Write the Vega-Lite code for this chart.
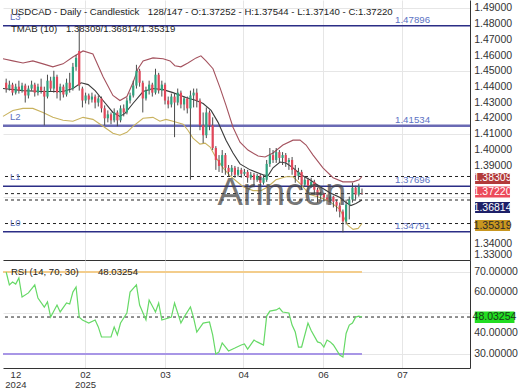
{
  "$schema": "https://vega.github.io/schema/vega-lite/v6.json",
  "padding": 0,
  "background": "white",
  "spacing": 0,
  "bounds": "flush",
  "config": {
    "view": {"stroke": null},
    "font": "Liberation Sans",
    "axis": {"labelFont": "Liberation Sans", "labelColor": "#333333", "gridColor": "#e6e6e6", "domainColor": "#333333", "ticks": false, "title": null}
  },
  "datasets": {
    "candles": [
      {"i":1,"o":1.4427,"h":1.4453,"l":1.4364,"c":1.439},
      {"i":2,"o":1.439,"h":1.444,"l":1.4377,"c":1.4415},
      {"i":3,"o":1.4415,"h":1.4427,"l":1.4346,"c":1.4364},
      {"i":4,"o":1.4364,"h":1.4421,"l":1.4352,"c":1.4402},
      {"i":5,"o":1.4402,"h":1.444,"l":1.4358,"c":1.4377},
      {"i":6,"o":1.4377,"h":1.4427,"l":1.4364,"c":1.4409},
      {"i":7,"o":1.4409,"h":1.4421,"l":1.4301,"c":1.4346},
      {"i":8,"o":1.4346,"h":1.4409,"l":1.4327,"c":1.439},
      {"i":9,"o":1.439,"h":1.444,"l":1.4377,"c":1.4415},
      {"i":10,"o":1.4415,"h":1.4427,"l":1.4339,"c":1.4364},
      {"i":11,"o":1.4364,"h":1.4421,"l":1.4346,"c":1.4402},
      {"i":12,"o":1.4402,"h":1.4453,"l":1.4358,"c":1.4377},
      {"i":13,"o":1.4377,"h":1.4402,"l":1.4156,"c":1.4339},
      {"i":14,"o":1.4339,"h":1.4478,"l":1.4327,"c":1.444},
      {"i":15,"o":1.444,"h":1.4465,"l":1.4371,"c":1.439},
      {"i":16,"o":1.439,"h":1.4503,"l":1.4364,"c":1.4465},
      {"i":17,"o":1.4465,"h":1.4478,"l":1.4327,"c":1.4364},
      {"i":18,"o":1.4364,"h":1.4421,"l":1.4314,"c":1.4402},
      {"i":19,"o":1.4402,"h":1.4415,"l":1.4333,"c":1.4352},
      {"i":20,"o":1.4352,"h":1.4453,"l":1.4339,"c":1.4427},
      {"i":21,"o":1.4427,"h":1.449,"l":1.4364,"c":1.439},
      {"i":22,"o":1.439,"h":1.4553,"l":1.4377,"c":1.4528},
      {"i":23,"o":1.4528,"h":1.4604,"l":1.4503,"c":1.4585},
      {"i":24,"o":1.4629,"h":1.4793,"l":1.4377,"c":1.4409},
      {"i":25,"o":1.439,"h":1.4402,"l":1.427,"c":1.4314},
      {"i":26,"o":1.4314,"h":1.4364,"l":1.4295,"c":1.4346},
      {"i":27,"o":1.4346,"h":1.4358,"l":1.4289,"c":1.432},
      {"i":28,"o":1.432,"h":1.4364,"l":1.4301,"c":1.4339},
      {"i":29,"o":1.4339,"h":1.4352,"l":1.4264,"c":1.4301},
      {"i":30,"o":1.4301,"h":1.4346,"l":1.4276,"c":1.4327},
      {"i":31,"o":1.4327,"h":1.4339,"l":1.4238,"c":1.4264},
      {"i":32,"o":1.4264,"h":1.4283,"l":1.4156,"c":1.4201},
      {"i":33,"o":1.4201,"h":1.4251,"l":1.4175,"c":1.4226},
      {"i":34,"o":1.4226,"h":1.4238,"l":1.4163,"c":1.4188},
      {"i":35,"o":1.4188,"h":1.4264,"l":1.4175,"c":1.4238},
      {"i":36,"o":1.4238,"h":1.4251,"l":1.415,"c":1.4188},
      {"i":37,"o":1.4188,"h":1.4283,"l":1.4175,"c":1.4264},
      {"i":38,"o":1.4264,"h":1.4289,"l":1.4213,"c":1.4238},
      {"i":39,"o":1.4238,"h":1.4333,"l":1.4226,"c":1.4314},
      {"i":40,"o":1.4314,"h":1.4364,"l":1.4295,"c":1.4346},
      {"i":41,"o":1.4346,"h":1.444,"l":1.4333,"c":1.4409},
      {"i":42,"o":1.4409,"h":1.4541,"l":1.439,"c":1.4503},
      {"i":43,"o":1.4503,"h":1.4516,"l":1.4402,"c":1.4427},
      {"i":44,"o":1.4427,"h":1.444,"l":1.4238,"c":1.4327},
      {"i":45,"o":1.4327,"h":1.4402,"l":1.4314,"c":1.4377},
      {"i":46,"o":1.4377,"h":1.444,"l":1.4352,"c":1.4415},
      {"i":47,"o":1.4415,"h":1.4427,"l":1.4339,"c":1.4364},
      {"i":48,"o":1.4364,"h":1.4516,"l":1.4352,"c":1.4478},
      {"i":49,"o":1.4478,"h":1.449,"l":1.4358,"c":1.4377},
      {"i":50,"o":1.4377,"h":1.444,"l":1.4339,"c":1.4415},
      {"i":51,"o":1.4415,"h":1.4427,"l":1.4289,"c":1.4314},
      {"i":52,"o":1.4314,"h":1.4339,"l":1.4264,"c":1.4289},
      {"i":53,"o":1.4289,"h":1.4358,"l":1.427,"c":1.4339},
      {"i":54,"o":1.4339,"h":1.4358,"l":1.4081,"c":1.4301},
      {"i":55,"o":1.4301,"h":1.439,"l":1.4283,"c":1.4364},
      {"i":56,"o":1.4364,"h":1.4377,"l":1.4264,"c":1.4289},
      {"i":57,"o":1.4289,"h":1.4339,"l":1.4251,"c":1.4327},
      {"i":58,"o":1.4327,"h":1.4339,"l":1.4232,"c":1.4264},
      {"i":59,"o":1.4264,"h":1.4377,"l":1.381,"c":1.4346},
      {"i":60,"o":1.4346,"h":1.439,"l":1.427,"c":1.4364},
      {"i":61,"o":1.4364,"h":1.439,"l":1.427,"c":1.4314},
      {"i":62,"o":1.4314,"h":1.4327,"l":1.4125,"c":1.4156},
      {"i":63,"o":1.4156,"h":1.4238,"l":1.4043,"c":1.4093},
      {"i":64,"o":1.4093,"h":1.427,"l":1.4075,"c":1.4238},
      {"i":65,"o":1.4238,"h":1.4251,"l":1.4125,"c":1.4156},
      {"i":66,"o":1.4156,"h":1.4207,"l":1.3999,"c":1.4012},
      {"i":67,"o":1.4012,"h":1.4024,"l":1.3873,"c":1.3936},
      {"i":68,"o":1.3936,"h":1.3967,"l":1.386,"c":1.3898},
      {"i":69,"o":1.3898,"h":1.3999,"l":1.3854,"c":1.3967},
      {"i":70,"o":1.3967,"h":1.398,"l":1.3842,"c":1.3886},
      {"i":71,"o":1.3886,"h":1.3904,"l":1.3829,"c":1.386},
      {"i":72,"o":1.386,"h":1.3904,"l":1.3835,"c":1.3886},
      {"i":73,"o":1.3886,"h":1.3898,"l":1.3823,"c":1.3842},
      {"i":74,"o":1.3842,"h":1.3892,"l":1.3829,"c":1.3873},
      {"i":75,"o":1.3873,"h":1.3886,"l":1.3823,"c":1.3848},
      {"i":76,"o":1.3848,"h":1.3879,"l":1.3835,"c":1.386},
      {"i":77,"o":1.386,"h":1.3873,"l":1.3791,"c":1.3823},
      {"i":78,"o":1.3823,"h":1.386,"l":1.381,"c":1.3842},
      {"i":79,"o":1.3842,"h":1.3854,"l":1.3772,"c":1.381},
      {"i":80,"o":1.381,"h":1.3848,"l":1.3797,"c":1.3835},
      {"i":81,"o":1.3835,"h":1.3848,"l":1.3766,"c":1.3791},
      {"i":82,"o":1.3791,"h":1.3842,"l":1.3779,"c":1.3823},
      {"i":83,"o":1.381,"h":1.3936,"l":1.3797,"c":1.3911},
      {"i":84,"o":1.3911,"h":1.4012,"l":1.3892,"c":1.3967},
      {"i":85,"o":1.3967,"h":1.3999,"l":1.3917,"c":1.3936},
      {"i":86,"o":1.3936,"h":1.4012,"l":1.3917,"c":1.3986},
      {"i":87,"o":1.3986,"h":1.3999,"l":1.3923,"c":1.3949},
      {"i":88,"o":1.3949,"h":1.3986,"l":1.3904,"c":1.3967},
      {"i":89,"o":1.3967,"h":1.398,"l":1.3892,"c":1.3923},
      {"i":90,"o":1.3923,"h":1.3949,"l":1.3873,"c":1.3936},
      {"i":91,"o":1.3936,"h":1.3955,"l":1.3842,"c":1.3873},
      {"i":92,"o":1.3873,"h":1.3904,"l":1.3791,"c":1.3835},
      {"i":93,"o":1.3835,"h":1.3886,"l":1.381,"c":1.386},
      {"i":94,"o":1.386,"h":1.3873,"l":1.3747,"c":1.3779},
      {"i":95,"o":1.3779,"h":1.3829,"l":1.3766,"c":1.381},
      {"i":96,"o":1.381,"h":1.3823,"l":1.3728,"c":1.3772},
      {"i":97,"o":1.3772,"h":1.3823,"l":1.376,"c":1.3797},
      {"i":98,"o":1.3797,"h":1.381,"l":1.3716,"c":1.3747},
      {"i":99,"o":1.3747,"h":1.376,"l":1.3665,"c":1.3709},
      {"i":100,"o":1.3709,"h":1.3734,"l":1.3684,"c":1.3722},
      {"i":101,"o":1.3722,"h":1.3728,"l":1.3671,"c":1.3697},
      {"i":102,"o":1.3697,"h":1.3716,"l":1.3652,"c":1.3684},
      {"i":103,"o":1.3684,"h":1.3716,"l":1.3665,"c":1.3703},
      {"i":104,"o":1.3703,"h":1.3709,"l":1.3634,"c":1.3671},
      {"i":105,"o":1.3671,"h":1.3684,"l":1.3608,"c":1.3646},
      {"i":106,"o":1.3646,"h":1.3665,"l":1.3571,"c":1.3608},
      {"i":107,"o":1.3608,"h":1.3621,"l":1.3476,"c":1.3545},
      {"i":108,"o":1.3545,"h":1.3684,"l":1.3526,"c":1.3652},
      {"i":109,"o":1.3652,"h":1.3703,"l":1.3558,"c":1.3684},
      {"i":110,"o":1.3684,"h":1.3791,"l":1.3665,"c":1.376},
      {"i":111,"o":1.376,"h":1.3772,"l":1.3684,"c":1.3716},
      {"i":112,"o":1.3716,"h":1.3785,"l":1.3703,"c":1.3766},
      {"i":113,"o":1.37252,"h":1.37544,"l":1.3714,"c":1.3722}
    ],
    "bands": [
      {"band":"upper","i":0,"v":1.4579},{"band":"upper","i":3.1,"v":1.4566},{"band":"upper","i":6.3,"v":1.4553},{"band":"upper","i":9.4,"v":1.4566},
      {"band":"upper","i":12.6,"v":1.4547},{"band":"upper","i":15.7,"v":1.4528},{"band":"upper","i":18.9,"v":1.4547},{"band":"upper","i":22,"v":1.4591},
      {"band":"upper","i":25.2,"v":1.4629},{"band":"upper","i":28.3,"v":1.461},{"band":"upper","i":31.5,"v":1.4465},{"band":"upper","i":34.6,"v":1.4346},
      {"band":"upper","i":36.8,"v":1.4314},{"band":"upper","i":39,"v":1.4339},{"band":"upper","i":40.9,"v":1.4427},{"band":"upper","i":42.5,"v":1.4516},
      {"band":"upper","i":44.1,"v":1.4566},{"band":"upper","i":47.2,"v":1.4585},{"band":"upper","i":50.4,"v":1.4579},{"band":"upper","i":52.6,"v":1.4566},
      {"band":"upper","i":54.1,"v":1.4535},{"band":"upper","i":56,"v":1.4528},{"band":"upper","i":58.2,"v":1.4553},{"band":"upper","i":60.8,"v":1.4585},
      {"band":"upper","i":62.3,"v":1.4598},{"band":"upper","i":63.9,"v":1.4566},{"band":"upper","i":66.1,"v":1.4516},{"band":"upper","i":68.3,"v":1.4396},
      {"band":"upper","i":70.2,"v":1.4283},{"band":"upper","i":72.4,"v":1.4144},{"band":"upper","i":74.6,"v":1.4049},{"band":"upper","i":77.1,"v":1.3999},
      {"band":"upper","i":80.3,"v":1.3961},{"band":"upper","i":82.5,"v":1.3955},{"band":"upper","i":85,"v":1.398},{"band":"upper","i":88.1,"v":1.4031},
      {"band":"upper","i":91.3,"v":1.4062},{"band":"upper","i":93.5,"v":1.4062},{"band":"upper","i":95.4,"v":1.4031},{"band":"upper","i":97.6,"v":1.3967},
      {"band":"upper","i":100.7,"v":1.3886},{"band":"upper","i":103.9,"v":1.3823},{"band":"upper","i":107,"v":1.3797},{"band":"upper","i":110.2,"v":1.3797},
      {"band":"upper","i":112.1,"v":1.381},{"band":"upper","i":113,"v":1.38309},
      {"band":"mid","i":0,"v":1.439},{"band":"mid","i":6.3,"v":1.4377},{"band":"mid","i":12.6,"v":1.4371},{"band":"mid","i":18.9,"v":1.4371},
      {"band":"mid","i":22,"v":1.439},{"band":"mid","i":24.6,"v":1.4427},{"band":"mid","i":26.8,"v":1.4415},{"band":"mid","i":29,"v":1.4377},
      {"band":"mid","i":31.5,"v":1.4314},{"band":"mid","i":34.6,"v":1.4238},{"band":"mid","i":36.8,"v":1.4213},{"band":"mid","i":38.4,"v":1.4232},
      {"band":"mid","i":40.9,"v":1.4295},{"band":"mid","i":44.1,"v":1.4371},{"band":"mid","i":47.2,"v":1.439},{"band":"mid","i":50.4,"v":1.4383},
      {"band":"mid","i":53.5,"v":1.4364},{"band":"mid","i":57.6,"v":1.4333},{"band":"mid","i":60.8,"v":1.4314},{"band":"mid","i":63,"v":1.4295},
      {"band":"mid","i":65.5,"v":1.4251},{"band":"mid","i":67.7,"v":1.4175},{"band":"mid","i":70.2,"v":1.4062},{"band":"mid","i":72.4,"v":1.398},
      {"band":"mid","i":74.6,"v":1.3911},{"band":"mid","i":77.8,"v":1.3873},{"band":"mid","i":81.8,"v":1.3842},{"band":"mid","i":83.4,"v":1.3835},
      {"band":"mid","i":85,"v":1.3886},{"band":"mid","i":87.2,"v":1.3923},{"band":"mid","i":89.1,"v":1.3917},{"band":"mid","i":91.3,"v":1.3886},
      {"band":"mid","i":93.8,"v":1.3842},{"band":"mid","i":96.6,"v":1.381},{"band":"mid","i":99.8,"v":1.3766},{"band":"mid","i":102.9,"v":1.3728},
      {"band":"mid","i":106.1,"v":1.3697},{"band":"mid","i":108,"v":1.3665},{"band":"mid","i":109.5,"v":1.3646},{"band":"mid","i":111.1,"v":1.3659},
      {"band":"mid","i":113,"v":1.36814},
      {"band":"lower","i":0,"v":1.4213},{"band":"lower","i":3.1,"v":1.4251},{"band":"lower","i":6.3,"v":1.4264},{"band":"lower","i":9.4,"v":1.4264},
      {"band":"lower","i":12.6,"v":1.4238},{"band":"lower","i":15.7,"v":1.4207},{"band":"lower","i":18.9,"v":1.4188},{"band":"lower","i":22,"v":1.4182},
      {"band":"lower","i":25.2,"v":1.4207},{"band":"lower","i":28.3,"v":1.4194},{"band":"lower","i":31.5,"v":1.415},{"band":"lower","i":34.6,"v":1.4106},
      {"band":"lower","i":36.8,"v":1.4093},{"band":"lower","i":39,"v":1.4112},{"band":"lower","i":40.9,"v":1.415},{"band":"lower","i":44.1,"v":1.4201},
      {"band":"lower","i":47.2,"v":1.4207},{"band":"lower","i":49.4,"v":1.4182},{"band":"lower","i":51.3,"v":1.4194},{"band":"lower","i":53.5,"v":1.4182},
      {"band":"lower","i":56.7,"v":1.4163},{"band":"lower","i":58.2,"v":1.4125},{"band":"lower","i":59.8,"v":1.4075},{"band":"lower","i":62,"v":1.4037},
      {"band":"lower","i":63.6,"v":1.4043},{"band":"lower","i":65.2,"v":1.4018},{"band":"lower","i":67.1,"v":1.3949},{"band":"lower","i":69.3,"v":1.3886},
      {"band":"lower","i":71.5,"v":1.3835},{"band":"lower","i":73.3,"v":1.3804},{"band":"lower","i":75.6,"v":1.3766},{"band":"lower","i":78.7,"v":1.3741},
      {"band":"lower","i":81.2,"v":1.3741},{"band":"lower","i":83.4,"v":1.3766},{"band":"lower","i":85.9,"v":1.381},{"band":"lower","i":89.1,"v":1.3829},
      {"band":"lower","i":91.3,"v":1.3829},{"band":"lower","i":93.5,"v":1.3785},{"band":"lower","i":96.6,"v":1.3716},{"band":"lower","i":99.8,"v":1.3697},
      {"band":"lower","i":102.9,"v":1.3671},{"band":"lower","i":106.1,"v":1.3621},{"band":"lower","i":107,"v":1.3583},{"band":"lower","i":108.6,"v":1.352},
      {"band":"lower","i":110.2,"v":1.3495},{"band":"lower","i":111.8,"v":1.3501},{"band":"lower","i":113,"v":1.35319}
    ],
    "rsi": [
      {"i":1,"r":70.0},{"i":2,"r":63.7},{"i":3,"r":65.1},{"i":4,"r":64.1},{"i":5,"r":67.1},{"i":6,"r":57.8},{"i":8,"r":59.8},{"i":10,"r":63.7},
      {"i":11,"r":57.3},{"i":13,"r":52.9},{"i":14,"r":55.4},{"i":15,"r":48.0},{"i":17,"r":53.9},{"i":18,"r":50.5},{"i":20,"r":54.9},{"i":21,"r":54.4},
      {"i":22,"r":60.2},{"i":23,"r":62.7},{"i":24,"r":48.0},{"i":25,"r":46.6},{"i":27,"r":45.1},{"i":29,"r":46.6},{"i":30,"r":43.2},{"i":31,"r":38.3},
      {"i":34,"r":38.3},{"i":35,"r":43.2},{"i":36,"r":39.3},{"i":37,"r":45.1},{"i":39,"r":50.0},{"i":40,"r":60.2},{"i":42,"r":63.7},{"i":43,"r":53.9},
      {"i":45,"r":46.6},{"i":46,"r":56.3},{"i":48,"r":50.5},{"i":49,"r":54.9},{"i":50,"r":46.6},{"i":53,"r":48.0},{"i":54,"r":54.9},{"i":56,"r":45.1},
      {"i":57,"r":48.0},{"i":59,"r":52.9},{"i":60,"r":47.6},{"i":61,"r":40.7},{"i":63,"r":45.1},{"i":65,"r":45.6},{"i":66,"r":39.3},{"i":67,"r":30.0},
      {"i":68,"r":31.0},{"i":69,"r":35.4},{"i":71,"r":31.5},{"i":73,"r":32.9},{"i":75,"r":34.4},{"i":76,"r":34.9},{"i":77,"r":32.4},{"i":79,"r":36.8},
      {"i":80,"r":35.9},{"i":82,"r":34.4},{"i":83,"r":48.5},{"i":84,"r":50.9},{"i":86,"r":51.5},{"i":87,"r":52.4},{"i":88,"r":50.5},{"i":90,"r":50.0},
      {"i":91,"r":44.1},{"i":92,"r":40.7},{"i":93,"r":33.4},{"i":94,"r":33.4},{"i":96,"r":45.1},{"i":97,"r":41.5},{"i":99,"r":35.9},{"i":100,"r":35.4},
      {"i":101,"r":33.4},{"i":102,"r":36.8},{"i":103,"r":35.9},{"i":104,"r":34.4},{"i":106,"r":29.5},{"i":107,"r":28.5},{"i":108,"r":40.0},{"i":109,"r":44.1},
      {"i":110,"r":45.1},{"i":111,"r":48.0},{"i":112,"r":48.5},{"i":113,"r":48.03254}
    ],
    "levels": [
      {"name":"L3","v":1.47896},{"name":"L2","v":1.41534},{"name":"L1","v":1.37696},{"name":"L0","v":1.34791}
    ],
    "current": [
      {"k":"upper","v":1.38309},{"k":"close","v":1.3722},{"k":"mid","v":1.36814},{"k":"lower","v":1.35319}
    ],
    "priceticks": [
      {"t":1.34},{"t":1.39},{"t":1.4},{"t":1.41},{"t":1.42},{"t":1.43},{"t":1.44},{"t":1.45},{"t":1.46},{"t":1.47},{"t":1.48},{"t":1.49}
    ],
    "rsiticks": [{"t":30},{"t":40},{"t":60},{"t":70}],
    "rsinow": [{"r":48.03254}]
  },
  "vconcat": [
    {
      "width": 467,
      "height": 260,
      "layer": [
        {
          "data": {"name": "levels"},
          "mark": {"type": "rule"},
          "encoding": {
            "y": {"field": "v", "type": "quantitative", "title": null,
              "scale": {"domain": [1.33, 1.4953], "nice": false, "zero": false},
              "axis": {"orient": "right", "values": [1.33,1.34,1.35,1.36,1.37,1.38,1.39,1.4,1.41,1.42,1.43,1.44,1.45,1.46,1.47,1.48,1.49],
                "labels": false, "grid": true, "domain": true}},
            "color": {"condition": {"test": "datum.name == 'L2'", "value": "#6a6ab4"}, "value": "#2b2d86"},
            "strokeWidth": {"condition": {"test": "datum.name == 'L2'", "value": 2.5}, "value": 1.5}
          }
        },
        {
          "data": {"name": "current"},
          "mark": {"type": "rule", "strokeDash": [3, 3], "color": "#222222", "strokeWidth": 1},
          "encoding": {"y": {"field": "v", "type": "quantitative", "title": null}}
        },
        {
          "data": {"name": "bands"},
          "mark": {"type": "line", "strokeWidth": 1.1},
          "encoding": {
            "x": {"field": "i", "type": "quantitative", "title": null},
            "y": {"field": "v", "type": "quantitative", "title": null},
            "stroke": {"field": "band", "type": "nominal", "scale": {"domain": ["upper", "mid", "lower"], "range": ["#a4525e", "#3a3a3a", "#c9b25e"]}, "legend": null}
          }
        },
        {
          "data": {"name": "candles"},
          "mark": {"type": "rule", "color": "#4a4a4a", "strokeWidth": 1},
          "encoding": {
            "x": {"field": "i", "type": "quantitative", "title": null,
              "scale": {"domain": [0, 147], "nice": false, "zero": false},
              "axis": {"orient": "bottom", "values": [25.8, 51, 75.6, 100.7, 125.6], "labels": false, "grid": true, "domain": true}},
            "y": {"field": "l", "type": "quantitative", "title": null},
            "y2": {"field": "h"}
          }
        },
        {
          "data": {"name": "candles"},
          "mark": {"type": "rule", "strokeWidth": 2.2},
          "encoding": {
            "x": {"field": "i", "type": "quantitative", "title": null},
            "y": {"field": "o", "type": "quantitative", "title": null},
            "y2": {"field": "c"},
            "color": {"condition": {"test": "datum.c >= datum.o", "value": "#2fa37f"}, "value": "#e2475a"}
          }
        },
        {
          "data": {"name": "levels"},
          "mark": {"type": "text", "align": "left", "baseline": "middle", "dy": -9, "fontSize": 9.5, "color": "#5c6fc0"},
          "encoding": {
            "x": {"datum": 2.2},
            "y": {"field": "v", "type": "quantitative", "title": null},
            "text": {"field": "name"}
          }
        },
        {
          "data": {"name": "levels"},
          "mark": {"type": "text", "align": "left", "baseline": "middle", "dy": -6, "fontSize": 9.7, "color": "#5c73c4"},
          "encoding": {
            "x": {"datum": 123.4},
            "y": {"field": "v", "type": "quantitative", "title": null},
            "text": {"field": "v", "format": ".5f"}
          }
        },
        {
          "data": {"values": [{"t": "Arincen"}]},
          "mark": {"type": "text", "align": "center", "baseline": "alphabetic", "fontSize": 38, "color": "#444444", "opacity": 0.72},
          "encoding": {
            "x": {"datum": 87.8},
            "y": {"datum": 1.3649},
            "text": {"field": "t"}
          }
        },
        {
          "data": {"values": [{"t": "USDCAD - Daily - Candlestick"}]},
          "mark": {"type": "text", "align": "left", "baseline": "middle", "fontSize": 9.6, "color": "#222222"},
          "encoding": {"x": {"datum": 2.5}, "y": {"datum": 1.4876}, "text": {"field": "t"}}
        },
        {
          "data": {"values": [{"t": "128/147 - O:1.37252 - H:1.37544 - L:1.37140 - C:1.37220"}]},
          "mark": {"type": "text", "align": "left", "baseline": "middle", "fontSize": 9.6, "color": "#222222"},
          "encoding": {"x": {"datum": 45.6}, "y": {"datum": 1.4876}, "text": {"field": "t"}}
        },
        {
          "data": {"values": [{"t": "TMAB (10)"}]},
          "mark": {"type": "text", "align": "left", "baseline": "middle", "fontSize": 9.6, "color": "#222222"},
          "encoding": {"x": {"datum": 2.5}, "y": {"datum": 1.4768}, "text": {"field": "t"}}
        },
        {
          "data": {"values": [{"t": "1.38309/1.36814/1.35319"}]},
          "mark": {"type": "text", "align": "left", "baseline": "middle", "fontSize": 9.6, "color": "#222222"},
          "encoding": {"x": {"datum": 19.8}, "y": {"datum": 1.4768}, "text": {"field": "t"}}
        },
        {
          "data": {"name": "priceticks"},
          "mark": {"type": "text", "align": "left", "baseline": "middle", "fontSize": 10.5, "color": "#333333"},
          "encoding": {
            "x": {"datum": 148.3},
            "y": {"field": "t", "type": "quantitative", "title": null},
            "text": {"field": "t", "format": ".5f"}
          }
        },
        {
          "data": {"values": [{"t": 1.33}]},
          "mark": {"type": "text", "align": "left", "baseline": "bottom", "dy": 0, "fontSize": 10.5, "color": "#333333"},
          "encoding": {
            "x": {"datum": 148.3},
            "y": {"field": "t", "type": "quantitative", "title": null},
            "text": {"field": "t", "format": ".5f"}
          }
        },
        {
          "data": {"name": "current"},
          "transform": [{"filter": "datum.k == 'upper' || datum.k == 'lower'"}],
          "mark": {"type": "rect", "yOffset": -3.5, "y2Offset": 7.5},
          "encoding": {
            "x": {"datum": 148.6}, "x2": {"datum": 159.6},
            "y": {"field": "v", "type": "quantitative", "title": null}, "y2": {"field": "v"},
            "fill": {"field": "k", "type": "nominal", "scale": {"domain": ["upper", "close", "mid", "lower"], "range": ["#b23a3a", "#ec4a5b", "#1d2068", "#c8961f"]}, "legend": null}
          }
        },
        {
          "data": {"name": "current"},
          "transform": [{"filter": "datum.k == 'close'"}],
          "mark": {"type": "rect", "yOffset": -7, "y2Offset": 4},
          "encoding": {
            "x": {"datum": 148.6}, "x2": {"datum": 159.6},
            "y": {"field": "v", "type": "quantitative", "title": null}, "y2": {"field": "v"},
            "fill": {"field": "k", "type": "nominal", "legend": null}
          }
        },
        {
          "data": {"name": "current"},
          "transform": [{"filter": "datum.k == 'mid'"}],
          "mark": {"type": "rect", "yOffset": 2, "y2Offset": 13},
          "encoding": {
            "x": {"datum": 148.6}, "x2": {"datum": 159.6},
            "y": {"field": "v", "type": "quantitative", "title": null}, "y2": {"field": "v"},
            "fill": {"field": "k", "type": "nominal", "legend": null}
          }
        },
        {
          "data": {"name": "current"},
          "transform": [{"filter": "datum.k == 'upper' || datum.k == 'lower'"}],
          "mark": {"type": "text", "align": "center", "baseline": "middle", "dy": 2, "fontSize": 10.5},
          "encoding": {
            "x": {"datum": 154.1},
            "y": {"field": "v", "type": "quantitative", "title": null},
            "text": {"field": "v", "format": ".5f"},
            "color": {"condition": {"test": "datum.k == 'lower'", "value": "#2a2a2a"}, "value": "#ffffff"}
          }
        },
        {
          "data": {"name": "current"},
          "transform": [{"filter": "datum.k == 'close'"}],
          "mark": {"type": "text", "align": "center", "baseline": "middle", "dy": -1.5, "fontSize": 10.5, "color": "#ffffff"},
          "encoding": {
            "x": {"datum": 154.1},
            "y": {"field": "v", "type": "quantitative", "title": null},
            "text": {"field": "v", "format": ".5f"}
          }
        },
        {
          "data": {"name": "current"},
          "transform": [{"filter": "datum.k == 'mid'"}],
          "mark": {"type": "text", "align": "center", "baseline": "middle", "dy": 7.5, "fontSize": 10.5, "color": "#ffffff"},
          "encoding": {
            "x": {"datum": 154.1},
            "y": {"field": "v", "type": "quantitative", "title": null},
            "text": {"field": "v", "format": ".5f"}
          }
        }
      ]
    },
    {
      "width": 467,
      "height": 108,
      "layer": [
        {
          "data": {"values": [{"lvl": 70}]},
          "mark": {"type": "rule", "color": "#f3cd8c", "strokeWidth": 2},
          "encoding": {
            "x": {"datum": 0, "scale": {"domain": [0, 147], "nice": false, "zero": false},
              "axis": {"orient": "bottom", "values": [3.9, 25.8, 51, 75.6, 100.7, 125.6], "grid": true, "domain": true,
                "gridOpacity": {"condition": {"test": "datum.value < 10", "value": 0}, "value": 1},
                "labelExpr": "datum.value < 10 ? ['12', '2024'] : datum.value < 40 ? ['02', '2025'] : datum.value < 60 ? '03' : datum.value < 90 ? '04' : datum.value < 110 ? '06' : '07'",
                "labelFontSize": 9.5, "labelLineHeight": 10, "labelPadding": 1, "labelBaseline": "top", "labelFlush": false, "labelOverlap": false}},
            "x2": {"datum": 113},
            "y": {"field": "lvl", "type": "quantitative", "title": null,
              "scale": {"domain": [23.17, 75.85], "nice": false, "zero": false},
              "axis": {"orient": "right", "values": [30, 40, 50, 60, 70], "labels": false, "grid": true, "domain": true}}
          }
        },
        {
          "data": {"values": [{"lvl": 30}]},
          "mark": {"type": "rule", "color": "#a896e6", "strokeWidth": 2},
          "encoding": {
            "x": {"datum": 0}, "x2": {"datum": 113},
            "y": {"field": "lvl", "type": "quantitative", "title": null}
          }
        },
        {
          "data": {"name": "rsinow"},
          "mark": {"type": "rule", "strokeDash": [3, 3], "color": "#222222", "strokeWidth": 1},
          "encoding": {"y": {"field": "r", "type": "quantitative", "title": null}}
        },
        {
          "data": {"name": "rsi"},
          "mark": {"type": "line", "color": "#66d966", "strokeWidth": 1.2},
          "encoding": {
            "x": {"field": "i", "type": "quantitative", "title": null},
            "y": {"field": "r", "type": "quantitative", "title": null}
          }
        },
        {
          "data": {"name": "rsiticks"},
          "mark": {"type": "text", "align": "left", "baseline": "middle", "fontSize": 10.5, "color": "#333333"},
          "encoding": {
            "x": {"datum": 148.3},
            "y": {"field": "t", "type": "quantitative", "title": null},
            "text": {"field": "t", "format": ".5f"}
          }
        },
        {
          "data": {"name": "rsinow"},
          "mark": {"type": "rect", "color": "#22dd22", "yOffset": -5.5, "y2Offset": 6},
          "encoding": {
            "x": {"datum": 148.5}, "x2": {"datum": 161},
            "y": {"field": "r", "type": "quantitative", "title": null}, "y2": {"field": "r"}
          }
        },
        {
          "data": {"name": "rsinow"},
          "mark": {"type": "text", "align": "center", "baseline": "middle", "fontSize": 10.5, "color": "#1a3a1a"},
          "encoding": {
            "x": {"datum": 154.7},
            "y": {"field": "r", "type": "quantitative", "title": null},
            "text": {"field": "r", "format": ".5f"}
          }
        },
        {
          "data": {"values": [{"t": "RSI (14, 70, 30)"}]},
          "mark": {"type": "text", "align": "left", "baseline": "middle", "fontSize": 9.6, "color": "#222222"},
          "encoding": {"x": {"datum": 2.5}, "y": {"datum": 70}, "text": {"field": "t"}}
        },
        {
          "data": {"name": "rsinow"},
          "mark": {"type": "text", "align": "left", "baseline": "middle", "fontSize": 9.6, "color": "#222222"},
          "encoding": {"x": {"datum": 29.9}, "y": {"datum": 70}, "text": {"field": "r", "format": ".5f"}}
        }
      ]
    }
  ]
}
